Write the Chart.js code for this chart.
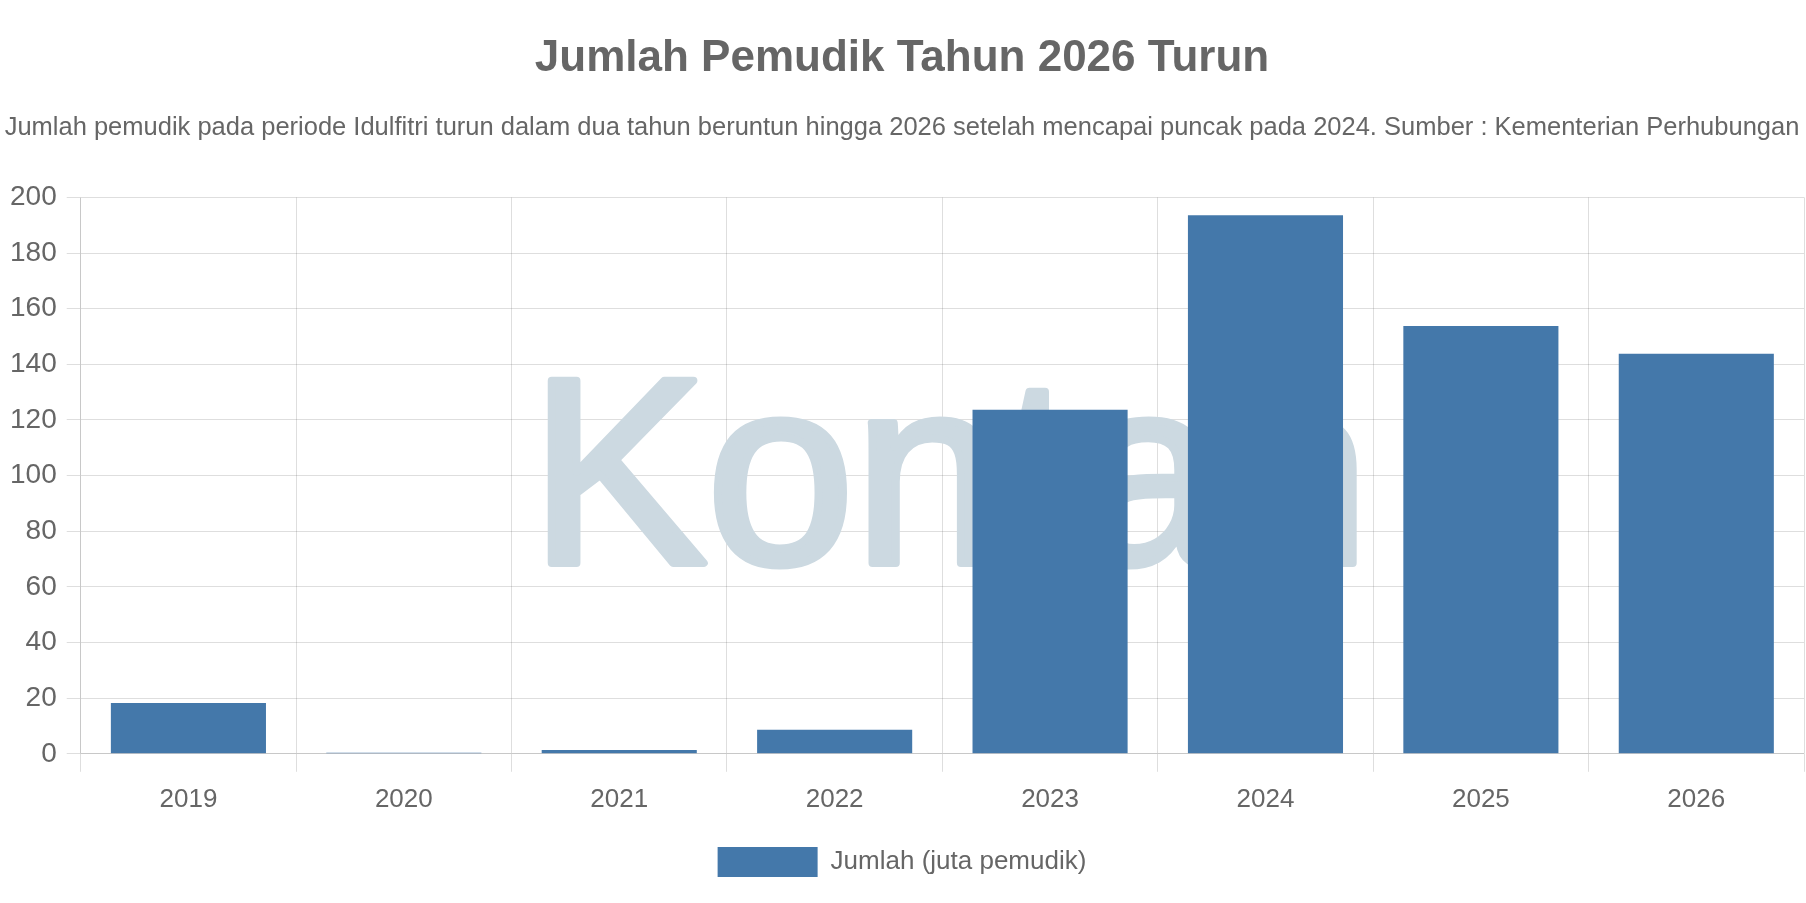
<!DOCTYPE html>
<html>
<head>
<meta charset="utf-8">
<script src="https://cdn.jsdelivr.net/npm/chart.js@4"></script>
<style>
  html, body { margin: 0; padding: 0; background: #fff; }
  #wrap { width: 1806px; height: 903px; }
</style>
</head>
<body>
<div id="wrap"><canvas id="chart"></canvas></div>
<script>
const years = ['2019', '2020', '2021', '2022', '2023', '2024', '2025', '2026'];
const pemudik = [18.3, 0.4, 1.4, 8.6, 123.7, 193.6, 153.8, 143.8];
const yTicks = [0, 20, 40, 60, 80, 100, 120, 140, 160, 180, 200];

// watermark behind the bars
const watermark = {
  id: 'watermark',
  beforeDatasetsDraw(chart) {
    const { ctx } = chart;
    ctx.save();
    ctx.fillStyle = 'rgb(204, 217, 225)';
    ctx.strokeStyle = 'rgb(204, 217, 225)';
    ctx.lineWidth = 8;
    ctx.lineJoin = 'round';
    ctx.font = '265px "Liberation Sans", Arial, sans-serif';
    ctx.textBaseline = 'alphabetic';
    ctx.fillText('Kontan', 530, 563);
    ctx.strokeText('Kontan', 530, 563);
    ctx.restore();
  }
};

new Chart(document.getElementById('chart'), {
  type: 'bar',
  data: {
    labels: years,
    datasets: [{
      label: 'Jumlah (juta pemudik)',
      data: pemudik,
      backgroundColor: 'rgb(68, 120, 170)',
      categoryPercentage: 0.8,
      barPercentage: 0.9
    }]
  },
  options: {
    responsive: true,
    maintainAspectRatio: false,
    animation: false,
    layout: { padding: { left: 0, right: 2, top: 0, bottom: 16 } },
    font: { family: '"Liberation Sans", Arial, sans-serif' },
    plugins: {
      title: {
        display: true,
        text: 'Jumlah Pemudik Tahun 2026 Turun',
        color: '#666',
        font: { size: 44, weight: 'bold', family: '"Liberation Sans", Arial, sans-serif' },
        padding: { top: 32, bottom: 28 }
      },
      subtitle: {
        display: true,
        text: 'Jumlah pemudik pada periode Idulfitri turun dalam dua tahun beruntun hingga 2026 setelah mencapai puncak pada 2024. Sumber : Kementerian Perhubungan',
        color: '#666',
        font: { size: 25.5, family: '"Liberation Sans", Arial, sans-serif' },
        padding: { bottom: 54 }
      },
      legend: {
        position: 'bottom',
        labels: {
          color: '#666',
          boxWidth: 100,
          boxHeight: 30,
          font: { size: 26, family: '"Liberation Sans", Arial, sans-serif' },
          padding: 20
        }
      },
      tooltip: { enabled: false }
    },
    scales: {
      x: {
        grid: { color: 'rgba(0,0,0,0.13)', offset: true, tickLength: 18 },
        ticks: { color: '#666', font: { size: 26 }, padding: 12 }
      },
      y: {
        min: 0,
        max: 200,
        afterBuildTicks(axis) { axis.ticks = yTicks.map(v => ({ value: v })); },
        grid: { color: 'rgba(0,0,0,0.13)', tickLength: 14 },
        ticks: { color: '#666', font: { size: 28 }, padding: 10 }
      }
    }
  },
  plugins: [watermark]
});
</script>
</body>
</html>
